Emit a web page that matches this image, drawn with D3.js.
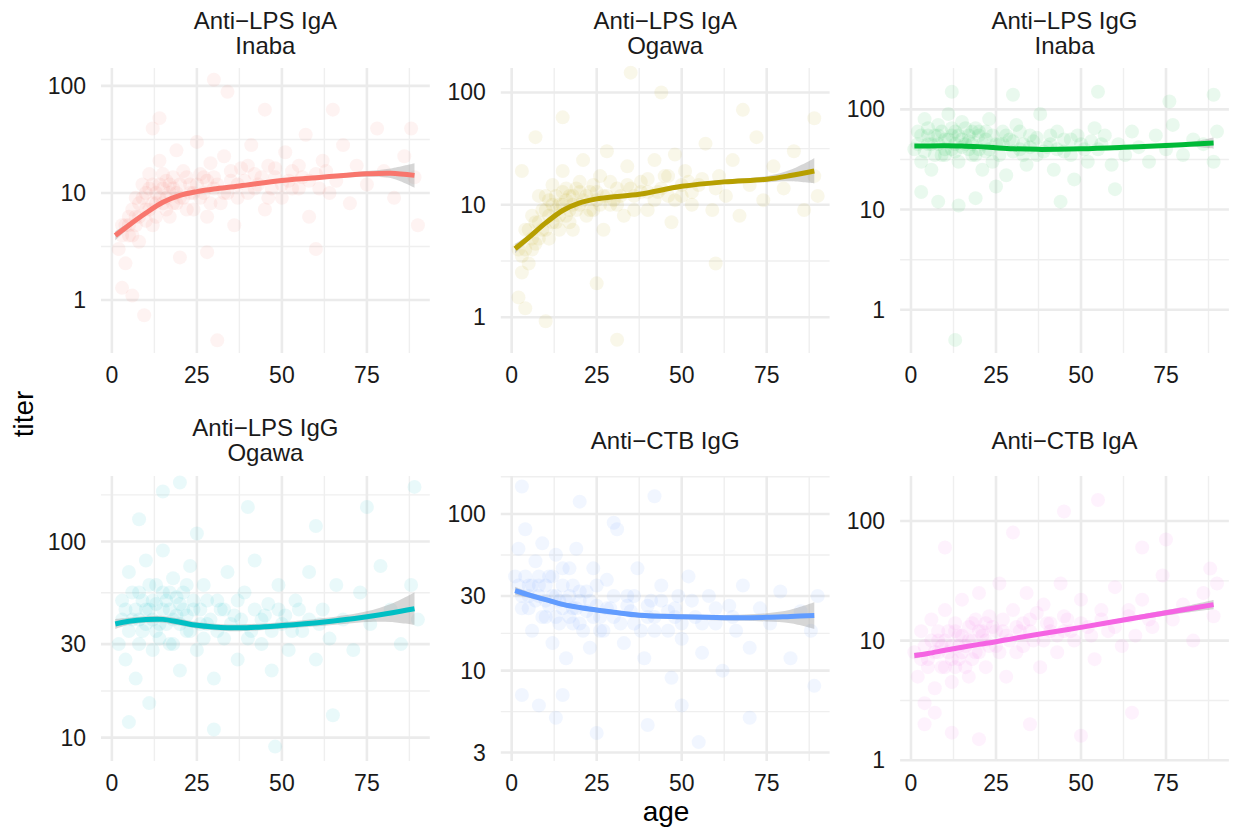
<!DOCTYPE html>
<html>
<head>
<meta charset="utf-8">
<script src="https://cdn.jsdelivr.net/npm/d3@7"></script>
<style>
  body { margin: 0; background: #fff; }
  text { font-family: "Liberation Sans", Arial, sans-serif; }
</style>
</head>
<body>
<svg id="chart" width="1235" height="835"></svg>
<script>
// facet titles, colours and axis breaks
const panelTitles = [
  ["Anti\u2212LPS IgA", "Inaba"], ["Anti\u2212LPS IgA", "Ogawa"], ["Anti\u2212LPS IgG", "Inaba"],
  ["Anti\u2212LPS IgG", "Ogawa"], ["Anti\u2212CTB IgG"], ["Anti\u2212CTB IgA"]
];
const panelColors = ["#F8766D", "#B79F00", "#00BA38", "#00BFC4", "#619CFF", "#F564E3"];
const xLimits = [-3.2, 93.5];
const xTicks = [0, 25, 50, 75];
const xMinor = [12.5, 37.5, 62.5, 87.5];
const yLimits = [[0.32, 147], [0.48, 165], [0.37, 259], [7.6, 216], [2.65, 175], [0.985, 238]];
const yTicks = [[1, 10, 100], [1, 10, 100], [1, 10, 100], [10, 30, 100], [3, 10, 30, 100], [1, 10, 100]];
const yMinor = [[3.16, 31.6], [3.16, 31.6], [3.16, 31.6], [17.3, 54.8, 173], [5.48, 17.3, 54.8, 173], [3.16, 31.6]];

// smoothed fits (loess) with confidence band, read at these ages
const fitAge = [1, 5, 10, 15, 20, 25, 30, 37.5, 50, 62.5, 75, 82, 89];
const fitMid = [
  [4.0, 5.0, 6.5, 8.2, 9.5, 10.3, 10.9, 11.6, 13.1, 14.1, 15.1, 15.3, 14.6],
  [4.06, 5.1, 6.9, 8.9, 10.4, 11.3, 11.8, 12.4, 14.6, 16.0, 16.9, 18.2, 20.0],
  [43.0, 43.2, 43.3, 43.0, 42.5, 41.4, 40.5, 39.9, 40.5, 41.9, 43.7, 44.8, 46.1],
  [38.0, 39.2, 40.0, 40.1, 38.8, 37.4, 36.7, 36.3, 37.3, 38.9, 41.4, 43.2, 45.4],
  [32.4, 30.5, 28.4, 26.5, 25.3, 24.4, 23.6, 22.6, 22.1, 21.8, 21.9, 22.2, 22.5],
  [7.5, 7.8, 8.3, 8.8, 9.3, 9.8, 10.4, 11.3, 12.9, 14.9, 17.1, 18.5, 20.0]
];
const fitLo = [
  [3.6, 4.7, 6.2, 7.9, 9.2, 10.0, 10.6, 11.3, 12.7, 13.6, 14.2, 13.8, 11.2],
  [3.7, 4.8, 6.6, 8.6, 10.1, 11.0, 11.5, 12.0, 14.1, 15.3, 15.9, 16.2, 15.5],
  [41.8, 42.3, 42.5, 42.2, 41.7, 40.6, 39.7, 39.1, 39.6, 40.8, 42.2, 42.6, 40.5],
  [35.8, 37.6, 38.5, 38.6, 37.3, 36.0, 35.3, 34.9, 35.9, 37.2, 38.9, 38.9, 37.6],
  [30.5, 29.2, 27.4, 25.6, 24.5, 23.6, 22.8, 21.8, 21.3, 20.9, 20.6, 20.1, 18.5],
  [7.1, 7.5, 8.0, 8.6, 9.1, 9.6, 10.2, 11.0, 12.5, 14.3, 16.2, 17.3, 18.3]
];
const fitHi = [
  [4.4, 5.3, 6.8, 8.5, 9.8, 10.6, 11.2, 11.9, 13.5, 14.6, 16.0, 16.9, 18.9],
  [4.5, 5.4, 7.2, 9.2, 10.7, 11.6, 12.1, 12.8, 15.1, 16.7, 18.0, 20.5, 26.0],
  [44.2, 44.1, 44.1, 43.8, 43.3, 42.2, 41.3, 40.7, 41.4, 43.0, 45.3, 47.2, 52.5],
  [40.3, 40.9, 41.6, 41.7, 40.4, 38.9, 38.1, 37.8, 38.8, 40.7, 44.1, 48.0, 55.0],
  [34.4, 31.8, 29.4, 27.4, 26.1, 25.2, 24.4, 23.4, 22.9, 22.7, 23.3, 24.5, 27.3],
  [7.9, 8.1, 8.6, 9.0, 9.5, 10.0, 10.6, 11.6, 13.3, 15.5, 18.0, 19.8, 21.9]
];

// individual observations [age, titer] (a sample read from the cloud)
const ptsLpsIgaInaba = [[2,3],[3,5],[4,2.2],[5,6],[6,4],[7,9],[8,3.5],[9,12],[10,7],[11,15],[12,5],[13,10],[14,20],[15,8],[16,13],[17,6],[18,11],[19,25],[20,9],[21,16],[22,7],[23,12],[25,30],[26,9],[27,14],[28,6],[29,19],[30,11],[32,8],[33,22],[35,13],[36,5],[38,17],[40,10],[41,28],[43,12],[45,7],[46,18],[48,14],[50,9],[51,24],[53,16],[55,11],[57,35],[58,6],[60,15],[62,20],[64,10],[66,13],[68,28],[70,8],[72,18],[75,12],[78,40],[80,16],[83,9],[86,22],[89,14],[90,5],
  [8,8],[10,10],[12,8],[14,12],[16,9],[18,14],[11,11],[13,6],[15,15],[17,10],[19,8],[24,10],[30,14],[34,10],[37,12],[42,15],[47,11],[52,13],[56,14],[5,4],[4,5],[7,6],
  [3,4],[5,5],[6,7],[7,5],[8,6],[9,9],[10,5.5],[11,7],[12,12],[13,8],[14,9],[15,11],[16,7],[17,12],[18,8],[19,10],[20,12],[21,9],[22,14],[23,10],[24,7],[25,12],[26,15],[27,10],[28,13],[29,8],[31,12],[33,10],[35,16],[37,9],[39,13],[40,18],[42,11],[44,14],[46,9],[48,17],[50,12],[53,11],[55,18],[58,13],[61,11],[63,16],
  [3,1.3],[6,1.1],[9.5,0.72],[31,0.42],[30,114],[34,88],[14,50],[45,60],[20,2.5],[28,2.8],[60,3],[12,40],[65,60],[88,40]];
const ptsLpsIgaOgawa = [[2,4],[3,2.5],[4,6],[5,3],[6,8],[7,4.5],[8,12],[9,6],[10,9],[11,5],[12,15],[13,7],[14,10],[15,20],[16,8],[17,12],[18,6],[19,14],[20,10],[21,25],[22,8],[23,13],[25,11],[26,18],[27,6],[28,30],[29,10],[31,14],[33,8],[34,22],[36,12],[38,16],[40,9],[42,25],[43,13],[45,18],[47,7],[48,28],[50,12],[51,20],[53,10],[55,15],[57,35],[59,9],[61,18],[63,12],[65,25],[67,8],[70,15],[72,40],[74,11],[77,22],[80,14],[83,30],[86,9],[89,18],[90,12],
  [6,5],[8,7],[10,12],[11,8],[12,10],[13,9],[14,6],[15,13],[16,11],[17,9],[18,10],[20,13],[24,9],[27,12],[30,11],[35,14],[40,13],[46,12],[52,16],
  [3,3.5],[4,4],[5,6],[6,4],[7,7],[8,5],[9,9],[10,6],[11,11],[12,7],[13,12],[14,8],[15,10],[16,14],[17,7],[18,12],[19,9],[20,16],[21,11],[22,12],[23,9],[24,15],[25,13],[26,10],[28,12],[29,16],[31,10],[32,12],[34,15],[36,9],[38,13],[40,17],[42,11],[44,14],[46,18],[48,11],[50,15],[53,13],[56,17],[60,14],
  [2,1.5],[4,1.2],[10,0.92],[31,0.63],[3,20],[35,150],[44,100],[89,59],[25,2],[60,3],[68,70],[15,60],[7,40]];
const ptsLpsIggInaba = [[1,40],[2,60],[3,30],[4,80],[5,45],[6,25],[7,55],[8,70],[9,35],[10,50],[11,90],[12,40],[13,60],[14,30],[15,75],[16,45],[17,55],[18,35],[19,65],[20,40],[21,25],[22,50],[23,80],[24,30],[26,45],[27,60],[28,22],[30,38],[31,70],[33,45],[34,28],[35,55],[37,35],[38,90],[40,42],[42,25],[43,60],[45,38],[47,50],[48,20],[50,45],[52,30],[54,65],[55,40],[57,55],[59,28],[61,45],[63,35],[65,60],[67,42],[70,30],[72,55],[75,40],[77,70],[80,35],[83,50],[86,45],[89,30],[90,60],
  [5,55],[8,45],[10,40],[12,55],[13,45],[15,50],[17,40],[18,60],[20,55],[22,38],[25,45],[29,50],[32,40],[36,48],[41,45],
  [2,45],[3,55],[4,38],[5,65],[6,45],[7,35],[8,55],[9,60],[10,35],[11,50],[12,65],[13,38],[14,55],[15,42],[16,65],[17,48],[18,45],[19,35],[20,60],[21,45],[22,60],[23,40],[24,55],[26,35],[27,45],[28,55],[30,48],[32,60],[33,35],[35,42],[37,52],[39,38],[41,55],[43,40],[45,50],[47,35],[49,55],[51,40],[53,48],[56,45],
  [3,15],[8,12],[14,11],[19,13],[12,150],[30,140],[55,150],[44,12],[25,17],[60,16],[89,140],[76,120],[13,0.5]];
const ptsLpsIggOgawa = [[2,30],[3,50],[4,25],[5,70],[6,40],[7,20],[8,55],[9,35],[10,80],[11,45],[12,28],[13,60],[14,38],[15,90],[16,50],[17,30],[18,65],[19,42],[20,22],[21,55],[22,35],[23,75],[24,45],[25,28],[27,60],[28,38],[30,20],[31,50],[33,32],[34,70],[36,42],[37,25],[39,55],[41,35],[42,80],[44,30],[46,48],[47,22],[49,60],[50,38],[52,28],[54,50],[56,35],[58,70],[60,25],[62,45],[64,32],[66,60],[68,40],[71,28],[73,55],[76,38],[79,75],[82,45],[85,30],[88,60],[90,40],
  [8,40],[10,45],[12,50],[13,35],[15,45],[17,55],[18,40],[20,48],[22,42],[26,38],[32,45],[38,40],[45,42],
  [3,40],[4,45],[5,35],[6,55],[7,45],[8,30],[9,50],[10,38],[11,60],[12,40],[13,48],[14,32],[15,55],[16,38],[17,45],[18,30],[19,52],[20,38],[21,45],[22,60],[23,35],[24,50],[26,45],[27,32],[28,50],[29,40],[31,35],[33,45],[35,38],[37,50],[40,32],[42,45],[44,40],[47,35],[49,45],[51,42],[53,35],[55,45],[58,40],[61,38],
  [5,12],[11,15],[30,11],[48,9],[65,13],[15,180],[20,200],[40,150],[75,150],[89,190],[25,110],[60,120],[8,130]];
const ptsCtbIgg = [[1,40],[2,60],[3,25],[4,80],[5,35],[6,18],[7,50],[8,30],[9,65],[10,22],[11,40],[12,15],[13,55],[14,28],[15,35],[16,12],[17,45],[18,25],[19,60],[20,20],[22,32],[23,14],[24,45],[25,26],[27,18],[28,38],[30,22],[31,80],[33,15],[34,30],[36,20],[37,45],[39,12],[41,28],[42,18],[44,35],[46,24],[47,9],[49,30],[50,16],[52,40],[54,22],[56,13],[58,30],[60,20],[62,10],[64,26],[66,18],[68,35],[70,14],[73,25],[76,20],[79,32],[82,12],[85,24],[88,18],[90,30],
  [5,30],[8,35],[10,28],[12,30],[13,22],[15,25],[17,30],[18,20],[20,28],[22,24],[26,22],[29,25],[35,24],[40,22],[48,22],[30,88],
  [2,35],[3,30],[4,40],[5,25],[6,35],[7,28],[8,40],[9,22],[10,35],[11,26],[12,40],[13,30],[14,20],[15,45],[16,28],[17,22],[18,35],[19,25],[20,32],[21,18],[23,28],[24,22],[25,35],[26,18],[28,25],[30,30],[32,20],[34,26],[36,30],[38,18],[40,26],[42,22],[44,28],[46,18],[48,25],[50,20],[53,28],[56,20],[60,25],[65,22],
  [3,7],[8,6],[13,5],[25,4],[40,4.5],[55,3.5],[50,6],[70,5],[3,150],[20,120],[42,130],[15,7],[89,8]];
const ptsCtbIga = [[1,8],[2,5],[3,12],[4,3],[5,7],[6,15],[7,4],[8,10],[9,6],[10,18],[11,8],[12,4.5],[13,12],[14,7],[15,22],[16,9],[17,5],[18,14],[19,8],[20,25],[21,11],[22,6],[23,16],[25,9],[26,30],[27,12],[28,5],[30,18],[31,8],[33,14],[34,25],[36,10],[38,6],[39,20],[41,12],[43,8],[44,30],[46,15],[48,10],[50,22],[52,13],[54,7],[56,18],[58,12],[60,28],[62,9],[64,16],[66,11],[68,22],[71,13],[74,35],[77,15],[80,20],[83,10],[86,25],[89,16],[90,30],
  [8,8],[10,10],[12,9],[13,6],[14,11],[15,8],[17,10],[18,7],[20,12],[22,10],[24,13],[28,11],[32,12],[35,15],[40,14],[45,12],
  [3,7],[4,9],[5,6],[6,10],[7,8],[8,12],[9,9],[10,6],[11,12],[12,7],[13,14],[14,9],[15,11],[16,6],[17,13],[18,10],[19,15],[20,8],[21,12],[22,14],[23,9],[25,12],[26,8],[27,15],[29,10],[31,13],[33,9],[35,12],[37,17],[39,10],[41,14],[43,11],[45,16],[47,12],[50,14],[53,11],[56,15],[60,13],[64,18],[70,15],
  [4,2],[7,2.5],[12,1.7],[20,1.5],[35,2],[50,1.6],[65,2.5],[10,60],[30,80],[45,120],[55,150],[68,60],[88,40],[75,70]];
const panelPoints = [ptsLpsIgaInaba, ptsLpsIgaOgawa, ptsLpsIggInaba, ptsLpsIggOgawa, ptsCtbIgg, ptsCtbIga];

// layout
const colLeft = [101, 500.8, 900.1];
const rowTop = [68, 476];
const panelW = 328.8, panelH = 285;
const stripMid = [33.5, 440.5];

const svg = d3.select("#chart");

panelTitles.forEach((title, i) => {
  const col = i % 3, row = Math.floor(i / 3);
  const left = colLeft[col], top = rowTop[row];
  const x = d3.scaleLinear().domain(xLimits).range([left, left + panelW]);
  const y = d3.scaleLog().domain(yLimits[i]).range([top + panelH, top]);
  const g = svg.append("g");

  // minor grid
  g.selectAll(".ymin").data(yMinor[i].filter(v => v > yLimits[i][0] && v < yLimits[i][1]))
    .enter().append("line")
    .attr("x1", left).attr("x2", left + panelW)
    .attr("y1", d => y(d)).attr("y2", d => y(d))
    .style("stroke", "#EFEFEF").style("stroke-width", 1.4);
  g.selectAll(".xmin").data(xMinor).enter().append("line")
    .attr("x1", d => x(d)).attr("x2", d => x(d))
    .attr("y1", top).attr("y2", top + panelH)
    .style("stroke", "#EFEFEF").style("stroke-width", 1.4);
  // major grid
  g.selectAll(".ymaj").data(yTicks[i]).enter().append("line")
    .attr("x1", left).attr("x2", left + panelW)
    .attr("y1", d => y(d)).attr("y2", d => y(d))
    .style("stroke", "#EBEBEB").style("stroke-width", 2.6);
  g.selectAll(".xmaj").data(xTicks).enter().append("line")
    .attr("x1", d => x(d)).attr("x2", d => x(d))
    .attr("y1", top).attr("y2", top + panelH)
    .style("stroke", "#EBEBEB").style("stroke-width", 2.6);

  // points
  g.selectAll(".pt").data(panelPoints[i]).enter().append("circle")
    .attr("cx", d => x(d[0])).attr("cy", d => y(d[1]))
    .attr("r", 7)
    .style("fill", panelColors[i]).style("fill-opacity", 0.085);

  // confidence band + smooth line
  const band = d3.area()
    .x((d, k) => x(fitAge[k]))
    .y0((d, k) => y(fitLo[i][k]))
    .y1((d, k) => y(fitHi[i][k]))
    .curve(d3.curveCatmullRom);
  g.append("path").attr("d", band(fitAge))
    .style("fill", "#999999").style("fill-opacity", 0.4);
  const line = d3.line()
    .x((d, k) => x(fitAge[k]))
    .y(d => y(d))
    .curve(d3.curveCatmullRom);
  g.append("path").attr("d", line(fitMid[i]))
    .style("fill", "none").style("stroke", panelColors[i])
    .style("stroke-width", 5).style("stroke-linecap", "butt");

  // tick labels
  g.selectAll(".ylab").data(yTicks[i]).enter().append("text")
    .attr("x", left - 15).attr("y", d => y(d) + 8)
    .attr("text-anchor", "end")
    .style("font-size", "23px").style("fill", "#1A1A1A")
    .text(d => d);
  g.selectAll(".xlab").data(xTicks).enter().append("text")
    .attr("x", d => x(d)).attr("y", top + panelH + 30)
    .attr("text-anchor", "middle")
    .style("font-size", "23px").style("fill", "#1A1A1A")
    .text(d => d);

  // strip title
  const mid = stripMid[row];
  title.forEach((t, k) => {
    const off = title.length === 1 ? 0 : (k === 0 ? -12.5 : 12.5);
    g.append("text")
      .attr("x", left + panelW / 2).attr("y", mid + off + 8)
      .attr("text-anchor", "middle")
      .style("font-size", "24px").style("fill", "#1A1A1A")
      .text(t);
  });
});

// axis titles
svg.append("text")
  .attr("transform", "translate(33,414) rotate(-90)")
  .attr("text-anchor", "middle")
  .style("font-size", "28px").style("fill", "#000")
  .text("titer");
svg.append("text")
  .attr("x", 666).attr("y", 821)
  .attr("text-anchor", "middle")
  .style("font-size", "28px").style("fill", "#000")
  .text("age");
</script>
</body>
</html>
